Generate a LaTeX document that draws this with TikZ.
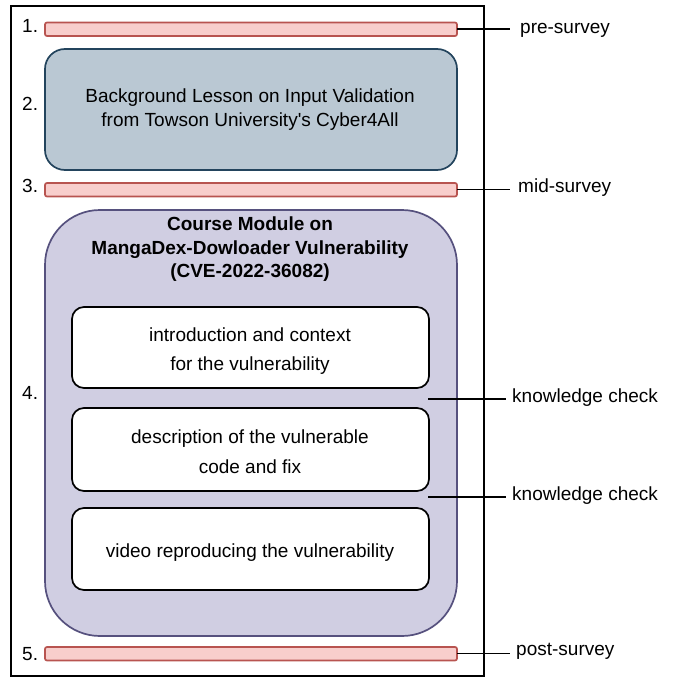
\documentclass[tikz,border=0pt]{standalone}
\usepackage{fontspec}
\setmainfont{Liberation Sans}
\definecolor{barfill}{HTML}{F8CECC}
\definecolor{barline}{HTML}{B85450}
\definecolor{bluefill}{HTML}{BAC8D3}
\definecolor{blueline}{HTML}{23445D}
\definecolor{purfill}{HTML}{D0CEE2}
\definecolor{purline}{HTML}{56517E}
\begin{document}
\begin{tikzpicture}[x=1pt,y=-1pt,
  survey/.style={draw=barline,fill=barfill,line width=1.7pt,rounded corners=2pt},
  lesson/.style={draw=blueline,fill=bluefill,line width=1.7pt,rounded corners=20pt},
  module/.style={draw=purline,fill=purfill,line width=1.7pt,rounded corners=55pt},
  part/.style={draw=black,fill=white,line width=1.7pt,rounded corners=12pt},
  tick/.style={draw=black,line width=1.7pt},
  lbl/.style={font=\fontsize{19}{22}\selectfont,inner sep=0pt,anchor=base west},
  txt/.style={font=\fontsize{19}{24}\selectfont,align=center,inner sep=0pt}]
\useasboundingbox (0,0) rectangle (673,679);
% outer frame
\draw[line width=1.7pt] (11,6) rectangle (484,676);

% surveys
\draw[survey] (45,22.5) rectangle (457,36);
\coordinate (s1) at (457,29);
\draw[survey] (45,183) rectangle (457,196.5);
\coordinate (s3) at (457,189.5);
\draw[survey] (45,647) rectangle (457,660.5);
\coordinate (s5) at (457,653.5);

% background lesson
\draw[lesson] (45,49) rectangle (457,170);
\node[txt] (lesson) at (250,110) {Background Lesson on Input Validation\\from Towson University\textquotesingle s Cyber4All};

% course module
\draw[module] (45,210) rectangle (457,636);
\node[txt,font=\fontsize{19}{23.5}\selectfont\bfseries] (mod) at (250,249.5)
  {Course Module on\\MangaDex-Dowloader Vulnerability\\(CVE-2022-36082)};

\draw[part] (72,307) rectangle (429,388);
\node[txt,font=\fontsize{19}{29.5}\selectfont] (pa) at (250,351) {introduction and context\\for the vulnerability};
\draw[part] (72,408) rectangle (429,491);
\node[txt,font=\fontsize{19}{29.5}\selectfont] (pb) at (250,451.5) {description of the vulnerable\\code and fix};
\draw[part] (72,508) rectangle (429,590);
\node[txt,anchor=base] (pc) at (250,557) {video reproducing the vulnerability};

\coordinate (k1) at (428,399);
\coordinate (k2) at (428,497);

% step numbers
\node[lbl] at (22,32.5) {1.};
\node[lbl] at (22,111) {2.};
\node[lbl] at (22,193) {3.};
\node[lbl] at (22,399) {4.};
\node[lbl] at (22,660) {5.};

% side labels with their ticks
\node[lbl] (pre) at (520,33.5) {pre-survey};
\node[lbl] (mid) at (518,192) {mid-survey};
\node[lbl] (kc1) at (512,402) {knowledge check};
\node[lbl] (kc2) at (512,500) {knowledge check};
\node[lbl] (post) at (516,655) {post-survey};

\draw[tick] (s1) -- (510,29);
\draw[tick] (s3) -- (510,189.5);
\draw[tick] (k1) -- (506,399);
\draw[tick] (k2) -- (506,497);
\draw[tick] (s5) -- (510,653.5);
\end{tikzpicture}
\end{document}
